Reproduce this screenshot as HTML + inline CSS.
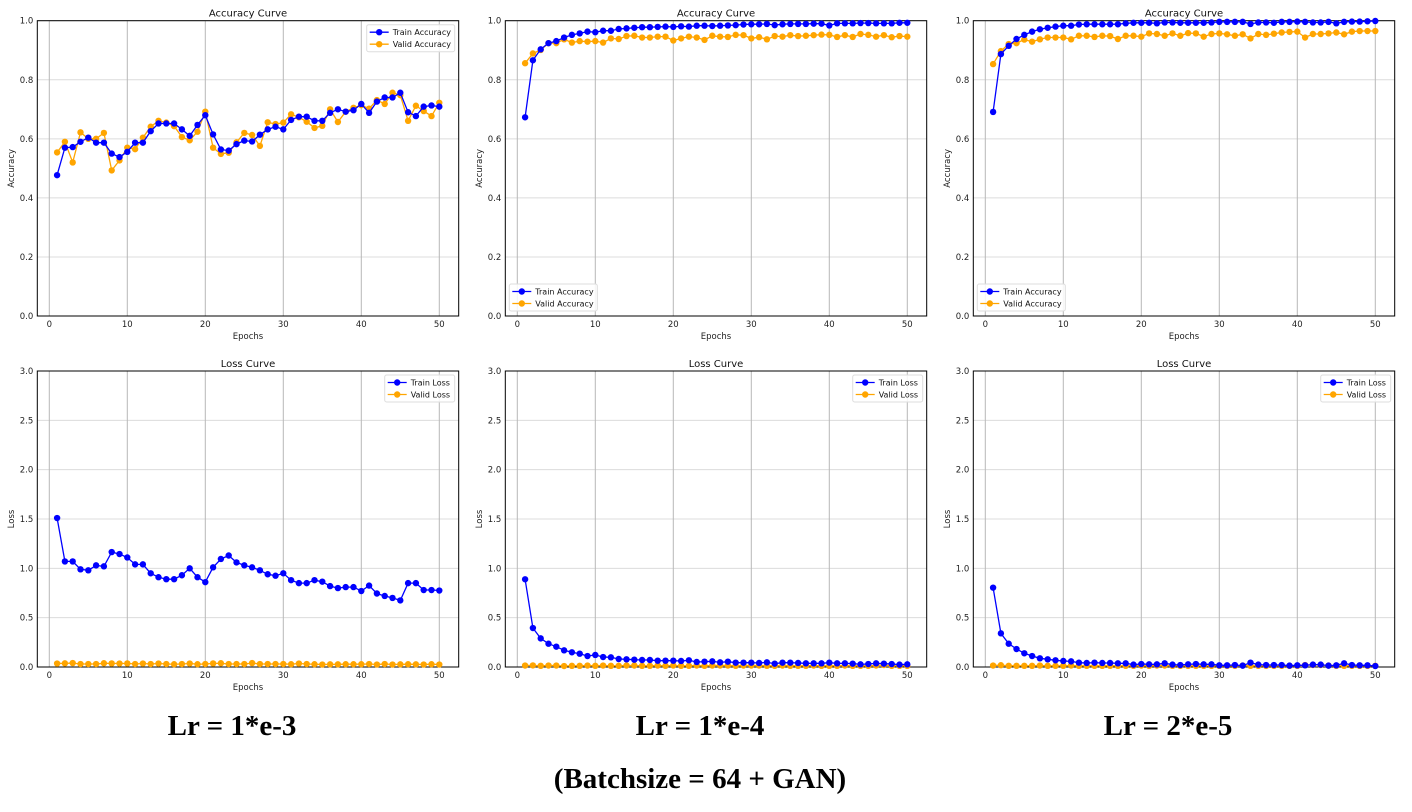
<!DOCTYPE html>
<html><head><meta charset="utf-8"><style>
body{margin:0;background:#fff;}
svg{display:block;font-family:"DejaVu Sans","Liberation Sans",sans-serif;}
.big{font-family:"Liberation Serif",serif;font-weight:bold;font-size:29px;fill:#000;}
</style></head><body>
<svg id="fig" width="1412" height="812" viewBox="0 0 1412 812"></svg>
<script>
const epochs=[];for(let i=1;i<=50;i++)epochs.push(i);
const xTicks=[0,10,20,30,40,50];
const accTicks=[0,0.2,0.4,0.6,0.8,1.0];
const lossTicks=[0,0.5,1.0,1.5,2.0,2.5,3.0];
const trainAcc1=[.477,.57,.572,.59,.604,.587,.587,.55,.538,.556,.587,.587,.626,.652,.652,.652,.632,.61,.647,.68,.615,.564,.56,.582,.594,.591,.614,.632,.641,.632,.664,.675,.675,.661,.661,.688,.7,.692,.697,.718,.688,.726,.74,.74,.756,.69,.677,.709,.713,.709];
const validAcc1=[.554,.59,.52,.622,.6,.6,.62,.493,.527,.57,.565,.604,.641,.661,.655,.643,.606,.595,.624,.692,.57,.549,.553,.588,.62,.613,.576,.656,.65,.655,.683,.673,.658,.637,.644,.7,.657,.692,.705,.714,.702,.731,.718,.756,.748,.661,.712,.694,.677,.722];
const trainLoss1=[1.51,1.07,1.07,.99,.98,1.03,1.02,1.165,1.145,1.11,1.04,1.04,.95,.91,.89,.89,.93,1.0,.91,.86,1.01,1.095,1.13,1.06,1.03,1.01,.98,.94,.925,.95,.88,.85,.85,.88,.865,.82,.80,.81,.81,.77,.825,.745,.72,.70,.675,.85,.85,.78,.78,.775];
const validLoss1=[.035,.037,.04,.03,.03,.03,.038,.036,.035,.036,.03,.035,.03,.035,.03,.028,.03,.035,.028,.03,.036,.038,.03,.03,.03,.04,.03,.03,.03,.03,.028,.035,.03,.028,.025,.027,.027,.028,.028,.028,.03,.025,.03,.025,.027,.028,.027,.025,.028,.025];
const trainAcc2=[.673,.866,.903,.924,.931,.943,.952,.957,.963,.961,.966,.966,.972,.974,.976,.978,.978,.979,.980,.979,.981,.980,.983,.983,.982,.983,.984,.985,.987,.988,.988,.989,.985,.988,.989,.989,.989,.990,.990,.984,.991,.991,.991,.992,.992,.991,.991,.991,.993,.993];
const validAcc2=[.856,.889,.901,.924,.924,.937,.926,.931,.929,.931,.926,.940,.938,.948,.949,.943,.943,.946,.946,.933,.940,.946,.943,.935,.949,.946,.945,.952,.951,.940,.944,.937,.948,.946,.951,.948,.949,.951,.953,.952,.945,.951,.945,.955,.952,.946,.951,.944,.948,.946];
const trainLoss2=[.889,.395,.29,.236,.206,.169,.149,.135,.111,.122,.101,.098,.081,.078,.074,.071,.071,.064,.064,.064,.061,.068,.051,.054,.057,.047,.054,.044,.044,.044,.041,.047,.034,.044,.044,.041,.037,.037,.037,.044,.037,.037,.034,.027,.030,.037,.034,.030,.024,.027];
const validLoss2=[.015,.016,.012,.015,.015,.01,.012,.012,.015,.012,.015,.012,.012,.015,.015,.012,.012,.015,.012,.015,.012,.012,.015,.012,.015,.015,.015,.012,.015,.015,.015,.012,.012,.015,.012,.012,.012,.015,.012,.012,.012,.015,.012,.012,.012,.015,.02,.012,.012,.012];
const trainAcc3=[.691,.887,.915,.938,.952,.963,.971,.976,.980,.983,.983,.987,.988,.988,.988,.988,.988,.991,.993,.993,.993,.991,.994,.994,.993,.993,.993,.993,.994,.996,.996,.996,.996,.989,.994,.994,.993,.996,.996,.997,.996,.994,.994,.996,.991,.996,.997,.997,.998,.999];
const validAcc3=[.853,.897,.921,.924,.936,.929,.937,.943,.943,.943,.937,.949,.949,.945,.949,.948,.938,.949,.949,.946,.957,.955,.949,.957,.949,.958,.957,.946,.955,.957,.954,.949,.954,.940,.955,.952,.956,.960,.962,.963,.943,.955,.955,.957,.960,.954,.963,.965,.965,.965];
const trainLoss3=[.804,.341,.236,.182,.139,.111,.088,.078,.068,.061,.057,.044,.041,.044,.041,.041,.037,.037,.024,.030,.027,.027,.037,.024,.020,.027,.030,.027,.027,.017,.017,.020,.014,.044,.024,.020,.020,.020,.014,.017,.017,.024,.024,.014,.017,.037,.020,.017,.017,.010];
const validLoss3=[.015,.018,.012,.012,.012,.012,.015,.012,.012,.012,.015,.012,.012,.012,.012,.012,.012,.012,.012,.015,.012,.015,.015,.012,.012,.012,.012,.012,.012,.012,.012,.012,.015,.012,.012,.012,.012,.012,.012,.012,.02,.02,.02,.015,.012,.012,.012,.012,.012,.012];

const NS="http://www.w3.org/2000/svg";
const svg=document.getElementById('fig');
function mk(tag,attrs,parent,text){const e=document.createElementNS(NS,tag);for(const k in attrs)e.setAttribute(k,attrs[k]);if(text!==undefined)e.textContent=text;(parent||svg).appendChild(e);return e;}
const BLUE="#0000ff",ORANGE="#ffa500";
function panel(col,row,tr,va,ticks,ymax,title,ylab,names,legendPos,key){
  const dx=col*468;
  const L=37.3+dx,R=458.7+dx;
  const T=row===0?20.7:371,B=row===0?316:667;
  const g=mk('g',{});
  
  
  const xs=e=>49.3+dx+7.8*e;
  const ys=v=>B-(B-T)*v/ymax;
  ticks.forEach(t=>{mk('line',{x1:L,x2:R,y1:ys(t),y2:ys(t),stroke:'#dcdcdc','stroke-width':1},g);
    const tl=mk('text',{x:L-4,y:ys(t)+3,'font-size':8.5,'text-anchor':'end',fill:'#222'},g,t.toFixed(1));
    });
  xTicks.forEach(t=>{mk('line',{x1:xs(t),x2:xs(t),y1:T,y2:B,stroke:'#b8b8b8','stroke-width':1},g);
    const tl=mk('text',{x:xs(t),y:B+11,'font-size':8.5,'text-anchor':'middle',fill:'#222'},g,String(t));
    });
  const fr=mk('rect',{x:L,y:T,width:R-L,height:B-T,fill:'none',stroke:'#000','stroke-width':1},g);
  
  const tt=mk('text',{x:(L+R)/2,y:T-4,'font-size':10,'text-anchor':'middle',fill:'#111'},g,title);
  
  const xl=mk('text',{x:(L+R)/2,y:B+23,'font-size':8.5,'text-anchor':'middle',fill:'#222'},g,'Epochs');
  
  const cy=(T+B)/2;
  const yl=mk('text',{x:14,y:cy,'font-size':8.5,'text-anchor':'middle',fill:'#222',transform:`rotate(-90 ${14+dx} ${cy}) translate(${dx} 0)`},g,ylab);
  yl.setAttribute('x',14);
  
  [[va,ORANGE,'valid'],[tr,BLUE,'train']].forEach(([arr,c,nm])=>{
    const pts=arr.map((v,i)=>xs(epochs[i]).toFixed(1)+','+ys(v).toFixed(1)).join(' ');
    const pl=mk('polyline',{points:pts,fill:'none',stroke:c,'stroke-width':1.3},g);
    
    arr.forEach((v,i)=>{const m=mk('circle',{cx:xs(epochs[i]),cy:ys(v),r:3.2,fill:c},g);
      });
  });
  const lw=names[0].length>12?88:70;
  let lx,ly;
  if(legendPos==='tr'){lx=R-4-lw;ly=T+4;}else{lx=L+4;ly=B-32;}
  const lg=mk('g',{},g);
  
  mk('rect',{x:lx,y:ly,width:lw,height:27,fill:'#fff','fill-opacity':0.85,stroke:'#ddd','stroke-width':1,rx:2},lg);
  [[names[0],BLUE],[names[1],ORANGE]].forEach(([n,c],i)=>{
    const yy=ly+7.5+i*12;
    mk('line',{x1:lx+3,x2:lx+22,y1:yy,y2:yy,stroke:c,'stroke-width':1.3},lg);
    mk('circle',{cx:lx+12.5,cy:yy,r:3.2,fill:c},lg);
    const te=mk('text',{x:lx+26,y:yy+3,'font-size':8,fill:'#111'},lg,n);
    
  });
}
panel(0,0,trainAcc1,validAcc1,accTicks,1,'Accuracy Curve','Accuracy',['Train Accuracy','Valid Accuracy'],'tr','acc-lr1e3');
panel(1,0,trainAcc2,validAcc2,accTicks,1,'Accuracy Curve','Accuracy',['Train Accuracy','Valid Accuracy'],'bl','acc-lr1e4');
panel(2,0,trainAcc3,validAcc3,accTicks,1,'Accuracy Curve','Accuracy',['Train Accuracy','Valid Accuracy'],'bl','acc-lr2e5');
panel(0,1,trainLoss1,validLoss1,lossTicks,3,'Loss Curve','Loss',['Train Loss','Valid Loss'],'tr','loss-lr1e3');
panel(1,1,trainLoss2,validLoss2,lossTicks,3,'Loss Curve','Loss',['Train Loss','Valid Loss'],'tr','loss-lr1e4');
panel(2,1,trainLoss3,validLoss3,lossTicks,3,'Loss Curve','Loss',['Train Loss','Valid Loss'],'tr','loss-lr2e5');
[['Lr = 1*e-3',232],['Lr = 1*e-4',700],['Lr = 2*e-5',1168]].forEach(([t,x])=>{
  const e=mk('text',{x:x,y:735,'text-anchor':'middle',class:'big'},svg,t);
  
});
const cap=mk('text',{x:700,y:788,'text-anchor':'middle',class:'big'},svg,'(Batchsize = 64 + GAN)');


</script>
</body></html>
